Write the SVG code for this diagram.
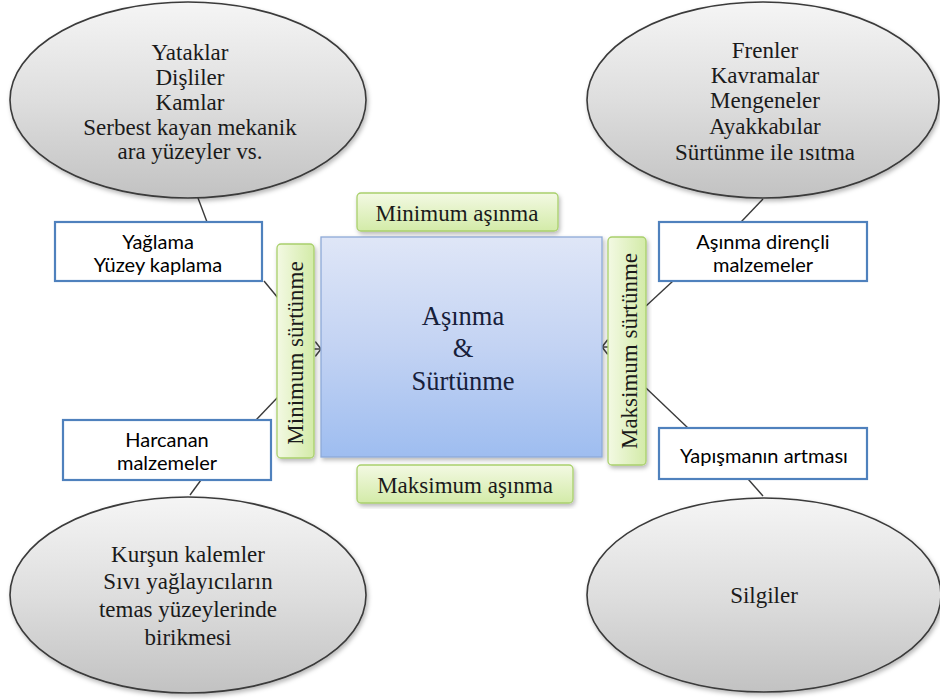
<svg xmlns="http://www.w3.org/2000/svg" width="940" height="700" viewBox="0 0 940 700">
<defs>
<linearGradient id="gEll" x1="0" y1="0" x2="0" y2="1">
<stop offset="0" stop-color="#f5f5f5"/>
<stop offset="0.5" stop-color="#dedede"/>
<stop offset="1" stop-color="#c2c2c2"/>
</linearGradient>
<linearGradient id="gBlue" x1="0" y1="0" x2="0" y2="1">
<stop offset="0" stop-color="#dfe6f7"/>
<stop offset="0.5" stop-color="#c3d3f3"/>
<stop offset="1" stop-color="#9ebdf0"/>
</linearGradient>
<linearGradient id="gGreen" x1="0" y1="0" x2="0" y2="1">
<stop offset="0" stop-color="#f3f9e3"/>
<stop offset="1" stop-color="#d3eba8"/>
</linearGradient>
<linearGradient id="gGreenV" x1="0" y1="0" x2="1" y2="0">
<stop offset="0" stop-color="#f3f9e3"/>
<stop offset="1" stop-color="#d3eba8"/>
</linearGradient>
<filter id="sh" x="-10%" y="-10%" width="125%" height="125%">
<feDropShadow dx="1.5" dy="2.5" stdDeviation="2" flood-color="#000" flood-opacity="0.28"/>
</filter>
<marker id="chev" viewBox="0 0 10 10" refX="9" refY="5" markerWidth="7" markerHeight="16" markerUnits="userSpaceOnUse" orient="auto" preserveAspectRatio="none">
<path d="M1,0.5 L9,5 L1,9.5" fill="none" stroke="#444" stroke-width="1.4"/>
</marker>
</defs>
<style>
.ell{fill:url(#gEll);stroke:#3a3a3a;stroke-width:1.6;filter:url(#sh)}
.et{font-family:'Liberation Serif','Times New Roman',serif;font-size:23px;fill:#1a1a1a;text-anchor:middle}
.box{fill:#ffffff;stroke:#4f81bd;stroke-width:2.2}
.bt{font-family:Lato,'Noto Sans',sans-serif;font-size:20px;fill:#000;text-anchor:middle}
.tab{fill:url(#gGreen);stroke:#a9d06c;stroke-width:1.3;filter:url(#sh)}
.tabv{fill:url(#gGreenV);stroke:#a9d06c;stroke-width:1.3;filter:url(#sh)}
.tt{font-family:'Liberation Serif','Times New Roman',serif;font-size:23px;fill:#1a1a1a;text-anchor:middle}
.ctr{fill:url(#gBlue);stroke:#8eaad8;stroke-width:1.3;filter:url(#sh)}
.ct{font-family:'Liberation Serif','Times New Roman',serif;font-size:26.5px;fill:#17203a;text-anchor:middle}
.cn{stroke:#3a3a3a;stroke-width:1.4;fill:none}
</style>
<rect width="940" height="700" fill="#ffffff"/>

<g id="connectors">
<line class="cn" x1="198" y1="198" x2="207" y2="222"/>
<line class="cn" x1="763" y1="199" x2="741" y2="222"/>
<line class="cn" x1="264" y1="281" x2="278" y2="298"/>
<line class="cn" x1="278" y1="397" x2="256" y2="420"/>
<line class="cn" x1="201" y1="480" x2="190" y2="495"/>
<line class="cn" x1="673" y1="281" x2="646" y2="306"/>
<line class="cn" x1="646" y1="388" x2="688" y2="428"/>
<line class="cn" x1="748" y1="479" x2="763" y2="496"/>
<line class="cn" x1="314" y1="349" x2="321" y2="349" marker-end="url(#chev)"/>
<line class="cn" x1="608" y1="347" x2="602" y2="347" marker-end="url(#chev)"/>
</g>

<g id="ellipse-tl">
<ellipse class="ell" cx="188" cy="100" rx="178" ry="98"/>
<text class="et" x="190" y="60">Yataklar</text>
<text class="et" x="190" y="85">Dişliler</text>
<text class="et" x="190" y="110">Kamlar</text>
<text class="et" x="190" y="135">Serbest kayan mekanik</text>
<text class="et" x="190" y="159">ara yüzeyler  vs.</text>
</g>

<g id="ellipse-tr">
<ellipse class="ell" cx="763" cy="100" rx="176" ry="98"/>
<text class="et" x="765" y="58">Frenler</text>
<text class="et" x="765" y="83">Kavramalar</text>
<text class="et" x="765" y="108">Mengeneler</text>
<text class="et" x="765" y="134">Ayakkabılar</text>
<text class="et" x="765" y="160">Sürtünme ile ısıtma</text>
</g>

<g id="ellipse-bl">
<ellipse class="ell" cx="188" cy="595" rx="178" ry="98"/>
<text class="et" x="188" y="562">Kurşun kalemler</text>
<text class="et" x="188" y="589">Sıvı yağlayıcıların</text>
<text class="et" x="188" y="617">temas yüzeylerinde</text>
<text class="et" x="188" y="645">birikmesi</text>
</g>

<g id="ellipse-br">
<ellipse class="ell" cx="764" cy="595" rx="177" ry="97"/>
<text class="et" x="764" y="603">Silgiler</text>
</g>

<g id="box-yaglama">
<rect class="box" x="55" y="222" width="207" height="59"/>
<text class="bt" x="158" y="249">Yağlama</text>
<text class="bt" x="158" y="272">Yüzey kaplama</text>
</g>

<g id="box-harcanan">
<rect class="box" x="63" y="420" width="208" height="60"/>
<text class="bt" x="167" y="447">Harcanan</text>
<text class="bt" x="167" y="470">malzemeler</text>
</g>

<g id="box-asinma-direncli">
<rect class="box" x="659" y="222" width="208" height="59"/>
<text class="bt" x="763" y="249">Aşınma dirençli</text>
<text class="bt" x="763" y="272">malzemeler</text>
</g>

<g id="box-yapisma">
<rect class="box" x="659" y="428" width="208" height="51"/>
<text class="bt" x="764" y="463" font-size="22.5">Yapışmanın artması</text>
</g>

<g id="center">
<rect class="ctr" x="321" y="237" width="281" height="220"/>
<text class="ct" x="463" y="325">Aşınma</text>
<text class="ct" x="463" y="357">&amp;</text>
<text class="ct" x="463" y="390">Sürtünme</text>
</g>

<g id="tab-min-asinma">
<rect class="tab" x="357" y="193" width="201" height="38" rx="4"/>
<text class="tt" x="457" y="221">Minimum aşınma</text>
</g>

<g id="tab-max-asinma">
<rect class="tab" x="357" y="465" width="216" height="38" rx="4"/>
<text class="tt" x="465" y="493">Maksimum aşınma</text>
</g>

<g id="tab-min-surtunme">
<rect class="tabv" x="277" y="244" width="37" height="214" rx="4"/>
<text class="tt" transform="translate(303,353) rotate(-90)" x="0" y="0">Minimum sürtünme</text>
</g>

<g id="tab-max-surtunme">
<rect class="tabv" x="608" y="237" width="38" height="228" rx="4"/>
<text class="tt" transform="translate(637,351) rotate(-90)" x="0" y="0">Maksimum sürtünme</text>
</g>
</svg>
